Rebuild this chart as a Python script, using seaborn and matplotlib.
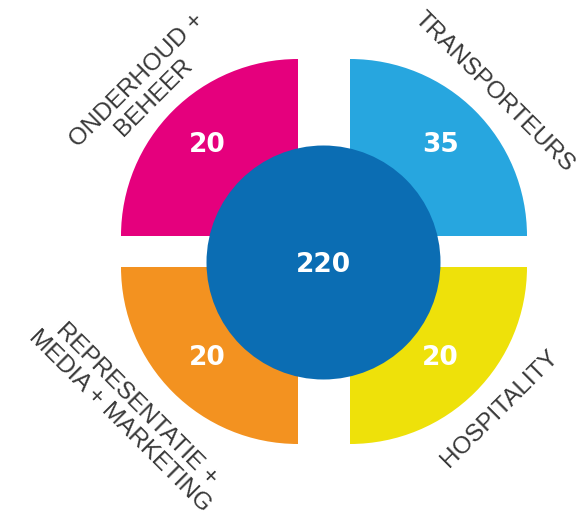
import numpy as np
import matplotlib
matplotlib.use("Agg")
import matplotlib.pyplot as plt
from matplotlib.patches import Wedge, Circle
import seaborn as sns

# ---- data ----
categories = ["ONDERHOUD +\nBEHEER", "TRANSPORTEURS", "REPRESENTATIE +\nMEDIA + MARKETING", "HOSPITALITY"]
values = [20, 35, 20, 20]
total_label = "220"
colors = ["#E5007D", "#27A6DF", "#F39220", "#EEE10A"]
center_color = "#0B6DB3"

sns.set_theme(style="white")
plt.rcParams['font.family'] = ['Liberation Sans', 'DejaVu Sans']

W, H = 577, 524
fig = plt.figure(figsize=(W / 100, H / 100), dpi=100)
ax = fig.add_axes([0, 0, 1, 1])
ax.set_xlim(0, W)
ax.set_ylim(0, H)
ax.set_aspect('equal')
ax.axis('off')

# layout (y up)
xl, xr = 298, 350          # corner x for left / right wedges
yt, yb = 524 - 236, 524 - 267  # corner y for top / bottom wedges
R = 177
corners = [(xl, yt), (xr, yt), (xl, yb), (xr, yb)]
theta = [(90, 180), (0, 90), (180, 270), (270, 360)]
mid = [135, 45, 225, 315]
label_ang = [136, 45, 220.6, 316.5]
label_r = [212, 204, 224, 206]
label_rot = [45, -45, -45, 45]

for (cx, cy), (t1, t2), col, val, m, la, lr, rot, cat in zip(corners, theta, colors, values, mid,
                                                             label_ang, label_r, label_rot, categories):
    ax.add_patch(Wedge((cx, cy), R, t1, t2, facecolor=col, edgecolor='none'))
    a = np.deg2rad(m)
    ax.text(cx + 128 * np.cos(a), cy + 128 * np.sin(a), str(val), color='white',
            fontsize=19, fontweight='bold', family='DejaVu Sans', ha='center', va='center')
    b = np.deg2rad(la)
    ax.text(cx + lr * np.cos(b), cy + lr * np.sin(b), cat, color='#383838',
            fontsize=17.5, ha='center', va='center', rotation=rot, rotation_mode='anchor',
            multialignment='center', linespacing=1.15)

ccx, ccy = 323.5, 524 - 262.5
ax.add_patch(Circle((ccx, ccy), 117, facecolor=center_color, edgecolor='none'))
ax.text(ccx, ccy - 2, total_label, color='white', fontsize=19, fontweight='bold',
        family='DejaVu Sans', ha='center', va='center')

fig.savefig("out.png", dpi=100, facecolor='white')
